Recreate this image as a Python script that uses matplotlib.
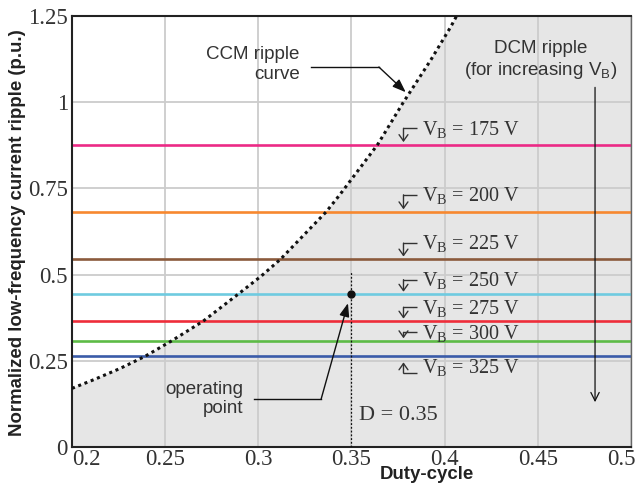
import matplotlib
matplotlib.use("Agg")
import matplotlib.pyplot as plt
from matplotlib.transforms import ScaledTranslation

# ---------------- data ----------------
vb_labels = ["175", "200", "225", "250", "275", "300", "325"]
vb_ripple = [0.877, 0.682, 0.545, 0.443, 0.365, 0.308, 0.263]
vb_colors = ["#ec2a86", "#f7882f", "#8b5a3c", "#6fcbe0", "#ee2d3a", "#5dbb46", "#3a5ba8"]
vb_text_y = [0.904, 0.711, 0.571, 0.465, 0.385, 0.312, 0.214]   # text baselines

ccm_duty = [0.2000, 0.2125, 0.2259, 0.2392, 0.2535, 0.2704, 0.2891, 0.3016, 0.3118,
            0.3364, 0.3435, 0.3640, 0.3774, 0.3925, 0.4032, 0.4064]
ccm_ripple = [0.170, 0.197, 0.228, 0.263, 0.308, 0.365, 0.443, 0.496, 0.544,
              0.682, 0.730, 0.877, 0.996, 1.122, 1.218, 1.250]

op_duty = 0.35
op_ripple = 0.443

xticks = [0.2, 0.25, 0.3, 0.35, 0.4, 0.45, 0.5]
xtick_labels = ["0.2", "0.25", "0.3", "0.35", "0.4", "0.45", "0.5"]
yticks = [0, 0.25, 0.5, 0.75, 1.0, 1.25]
ytick_labels = ["0", "0.25", "0.5", "0.75", "1", "1.25"]

XMIN, XMAX, YMIN, YMAX = 0.2, 0.5, 0.0, 1.25

# ---------------- figure ----------------
W, H = 636, 491
fig = plt.figure(figsize=(W / 100, H / 100), dpi=100)
ax = fig.add_axes([72 / W, 1 - 447 / H, (631 - 72) / W, (447 - 16) / H])
ax.set_xlim(XMIN, XMAX)
ax.set_ylim(YMIN, YMAX)

TXT = "#333333"
SERIF = "Liberation Serif"
SANS = "Liberation Sans"

# DCM shaded region
poly_x = ccm_duty + [XMAX, XMAX, XMIN]
poly_y = ccm_ripple + [YMAX, YMIN, YMIN]
ax.fill(poly_x, poly_y, color="#e6e6e6", zorder=0.1, lw=0)

ax.set_axisbelow(True)
ax.grid(True, color="#cccccc", lw=1.3)

# horizontal ripple lines
for v, c in zip(vb_ripple, vb_colors):
    ax.axhline(v, color=c, lw=1.9, zorder=2)

# CCM curve
ax.plot(ccm_duty, ccm_ripple, color="#111111", lw=2.2, linestyle=(0, (1, 1.2)), zorder=3)

# D = 0.35 dotted vertical line
ax.plot([op_duty, op_duty], [0, 0.507], color="#111111", lw=0.9, linestyle=(0, (1.5, 1.5)), zorder=3)
ax.plot([op_duty], [op_ripple], "o", color="#111111", ms=5, zorder=4)

# V_B labels with bent arrows
px = 1 / 345.0  # one pixel in data y-units
x_h0, x_h1 = 0.3854, 0.3779
for lab, v, ty in zip(vb_labels, vb_ripple, vb_text_y):
    ax.text(0.3878, ty, "V$_\\mathregular{B}$ = " + lab + " V", family=SERIF, fontsize=14.5,
            color=TXT, ha="left", va="baseline", zorder=5)
    if lab != "325":
        hy = ty + 7 * px
        tip = v + 2.5 * px
    else:
        hy = ty
        tip = v - 6 * px
    ax.plot([x_h0, x_h1], [hy, hy], color=TXT, lw=1.0, zorder=5, solid_capstyle="butt")
    ax.annotate("", xy=(x_h1, tip), xytext=(x_h1, hy),
                arrowprops=dict(arrowstyle="->,head_length=0.45,head_width=0.32",
                                color=TXT, lw=1.0, shrinkA=0, shrinkB=0), zorder=5)

# CCM ripple curve annotation
ax.text(0.3222, 1.109, "CCM ripple\ncurve", family=SANS, fontsize=13.5, color=TXT,
        ha="right", va="center", multialignment="right", linespacing=1.2)
ax.plot([0.3283, 0.3647], [1.102, 1.102], color="#111111", lw=1.0)
ax.annotate("", xy=(0.3791, 1.029), xytext=(0.3647, 1.102),
            arrowprops=dict(arrowstyle="-|>,head_length=0.8,head_width=0.3",
                            color="#111111", lw=1.0, shrinkA=0, shrinkB=0))

# DCM annotation
ax.text(0.4513, 1.120, "DCM ripple\n(for increasing V$_\\mathregular{B}$)", family=SANS,
        fontsize=13.5, color=TXT, ha="center", va="center", multialignment="center",
        linespacing=1.2)
ax.annotate("", xy=(0.4807, 0.130), xytext=(0.4807, 1.043),
            arrowprops=dict(arrowstyle="->,head_length=0.6,head_width=0.3",
                            color="#111111", lw=0.9, shrinkA=0, shrinkB=0))

# operating point annotation
ax.text(0.292, 0.139, "operating\npoint", family=SANS, fontsize=13.5, color=TXT,
        ha="right", va="center", multialignment="right", linespacing=1.2)
ax.plot([0.2979, 0.3337], [0.139, 0.139], color="#111111", lw=1.0)
ax.annotate("", xy=(0.3481, 0.417), xytext=(0.3337, 0.139),
            arrowprops=dict(arrowstyle="-|>,head_length=0.8,head_width=0.3",
                            color="#111111", lw=1.0, shrinkA=0, shrinkB=0))
ax.text(0.354, 0.0928, "D = 0.35", family=SERIF, fontsize=16, color=TXT,
        ha="left", va="center")

# ticks
ax.set_xticks(xticks)
ax.set_xticklabels(xtick_labels, family=SERIF, fontsize=16.5, color=TXT)
ax.set_yticks(yticks)
ax.set_yticklabels(ytick_labels, family=SERIF, fontsize=16.5, color=TXT)
ax.tick_params(axis="both", length=0)
ax.tick_params(axis="x", pad=1.5)
ax.tick_params(axis="y", pad=3)
xl = ax.get_xticklabels()
xl[0].set_horizontalalignment("left")
xl[-1].set_horizontalalignment("right")
xl[-1].set_transform(xl[-1].get_transform() + ScaledTranslation(5 / 100, 0, fig.dpi_scale_trans))

for s in ["left", "bottom", "top"]:
    ax.spines[s].set_color("#222222")
    ax.spines[s].set_linewidth(1.5)
ax.spines["right"].set_color("#666666")
ax.spines["right"].set_linewidth(1.0)

# axis labels
fig.text(427 / W, 1 - 479 / H, "Duty-cycle", family=SANS, weight="bold", fontsize=13.4,
         color="#222222", ha="center", va="baseline")
fig.text(18 / W, 1 - 233 / H, "Normalized low-frequency current ripple (p.u.)", family=SANS,
         weight="bold", fontsize=13.4, color="#222222", ha="center", va="center", rotation=90)

fig.savefig("out.png", dpi=100)
